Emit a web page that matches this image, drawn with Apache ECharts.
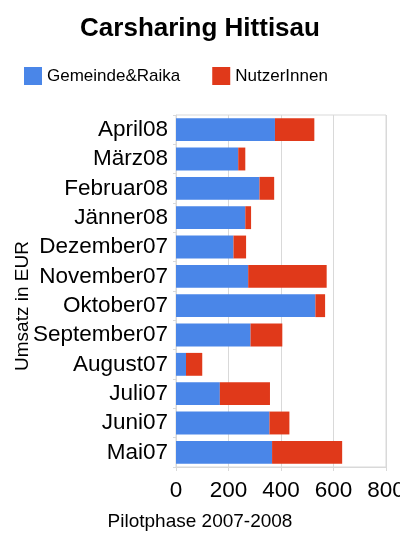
<!DOCTYPE html>
<html>
<head>
<meta charset="utf-8">
<script src="https://cdn.jsdelivr.net/npm/echarts@6/dist/echarts.min.js"></script>
<style>
    html, body { margin: 0; padding: 0; background: #fff; }
    #chartContainer { width: 400px; height: 541px; }
</style>
</head>
<body>
<div id="chartContainer"></div>
<script>
// Monate von oben nach unten
var months = ["April08", "März08", "Februar08", "Jänner08", "Dezember07", "November07",
    "Oktober07", "September07", "August07", "Juli07", "Juni07", "Mai07"];
var gemeindeRaika = [377, 237, 318, 264, 219, 275, 531, 284, 38, 167, 356, 366];
var nutzerInnen = [150, 27, 56, 22, 48, 299, 37, 121, 62, 191, 76, 267];
var xTicks = [0, 200, 400, 600, 800];

var dom = document.getElementById("chartContainer");
var myChart = echarts.init(dom);

var fontF = "Liberation Sans, Arial, sans-serif";

var option = {
    animation: false,
    title: {
        text: "Carsharing Hittisau",
        left: "center",
        top: 11,
        textStyle: {
            fontFamily: fontF,
            fontWeight: "bold",
            fontSize: 26,
            color: "#000"
        }
    },
    legend: {
        left: 19,
        top: 62,
        itemWidth: 18,
        itemHeight: 18,
        itemGap: 32,
        icon: "rect",
        data: ["Gemeinde&Raika", "NutzerInnen"],
        textStyle: {
            fontFamily: fontF,
            fontSize: 17,
            color: "#000"
        }
    },
    grid: {
        show: true,
        borderColor: "#d9d9d9",
        borderWidth: 1,
        left: 176,
        right: 14,
        top: 115,
        bottom: 74,
        containLabel: false,
        outerBoundsMode: "none"
    },
    xAxis: {
        type: "value",
        min: xTicks[0],
        max: xTicks[xTicks.length - 1],
        interval: xTicks[1] - xTicks[0],
        name: "Pilotphase 2007-2008",
        nameLocation: "middle",
        nameGap: 45,
        nameMoveOverlap: false,
        nameTextStyle: {
            fontFamily: fontF,
            fontSize: 19,
            color: "#000",
            padding: [0, 162, 0, 0]
        },
        axisLine: { show: true, lineStyle: { color: "#d9d9d9" } },
        axisTick: { show: true, length: 4, lineStyle: { color: "#d9d9d9" } },
        axisLabel: {
            margin: 12,
            fontFamily: fontF,
            fontSize: 22.5,
            color: "#000"
        },
        splitLine: { show: true, lineStyle: { color: "#d9d9d9" } }
    },
    yAxis: {
        type: "category",
        inverse: true,
        data: months,
        name: "Umsatz in EUR",
        nameLocation: "middle",
        nameRotate: 90,
        nameGap: 144,
        nameMoveOverlap: false,
        nameTextStyle: {
            fontFamily: fontF,
            fontSize: 19,
            color: "#000",
            padding: [0, 30, 0, 0]
        },
        axisLine: { show: true, lineStyle: { color: "#d9d9d9" } },
        axisTick: { show: true, length: 3, lineStyle: { color: "#d9d9d9" } },
        axisLabel: {
            interval: 0,
            margin: 8,
            fontFamily: fontF,
            fontSize: 22.5,
            color: "#000"
        }
    },
    series: [{
        name: "Gemeinde&Raika",
        type: "bar",
        stack: "umsatz",
        barCategoryGap: "22%",
        data: gemeindeRaika
    }, {
        name: "NutzerInnen",
        type: "bar",
        stack: "umsatz",
        barCategoryGap: "22%",
        data: nutzerInnen
    }],
    color: ["#4a86e8", "#e0391a"]
};

myChart.setOption(option, true);
</script>
</body>
</html>
